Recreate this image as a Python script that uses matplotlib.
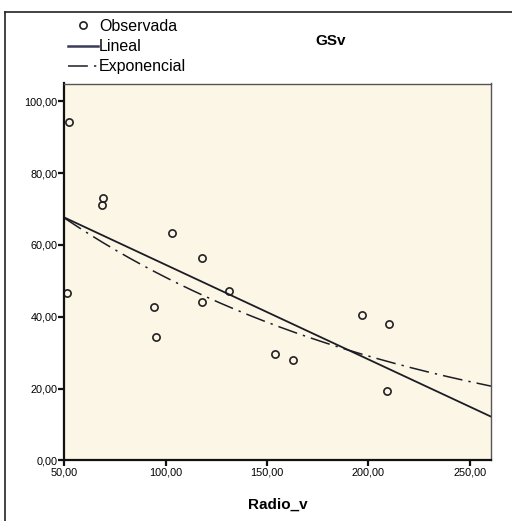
import numpy as np
import matplotlib
matplotlib.use("Agg")
import matplotlib.pyplot as plt
from matplotlib.lines import Line2D

radio_v = [52.5, 51.5, 69.2, 68.4, 103.0, 94.4, 95.1, 118.1, 117.8, 131.3,
           154.1, 163.0, 196.7, 210.0, 209.0]
gsv = [94.4, 46.7, 73.0, 71.1, 63.3, 42.6, 34.4, 56.5, 44.2, 47.3,
       29.7, 27.9, 40.6, 38.1, 19.4]

x_ticks = [50, 100, 150, 200, 250]
y_ticks = [0, 20, 40, 60, 80, 100]
x_lim = (50, 260.5)
y_lim = (0, 105)

plt.rcParams['font.family'] = ['Liberation Sans Narrow', 'Liberation Sans', 'DejaVu Sans']

x = np.array(radio_v)
y = np.array(gsv)

# SPSS-style curve estimation: linear and exponential fits
lin = np.polyfit(x, y, 1)
expo = np.polyfit(x, np.log(y), 1)
xs = np.linspace(x_lim[0], x_lim[1], 200)

fig = plt.figure(figsize=(5.12, 5.21), dpi=100)
ax = fig.add_axes([64.3 / 512, 1 - 460.3 / 521, (491 - 64.3) / 512, (460.3 - 83.5) / 521])
ax.set_facecolor('#fcf6e7')

obs, = ax.plot(x, y, 'o', mfc='none', mec='#222222', ms=5.2, mew=1.2, label='Observada', clip_on=False)
lin_line, = ax.plot(xs, np.polyval(lin, xs), color='#1c1c24', lw=1.3, label='Lineal')
exp_line, = ax.plot(xs, np.exp(np.polyval(expo, xs)), color='#1c1c24', lw=1.1,
                    linestyle=(0, (13, 4, 1.5, 4)), label='Exponencial')

ax.set_xlim(*x_lim)
ax.set_ylim(*y_lim)
ax.set_xticks(x_ticks)
ax.set_yticks(y_ticks)
ax.set_xticklabels([('%.2f' % v).replace('.', ',') for v in x_ticks])
ax.set_yticklabels([('%.2f' % v).replace('.', ',') for v in y_ticks])
ax.tick_params(direction='out', length=4, width=1.6, labelsize=7.8, color='#111111', pad=1)

for side in ['left', 'bottom']:
    ax.spines[side].set_linewidth(1.6)
    ax.spines[side].set_color('#111111')
for side in ['top', 'right']:
    ax.spines[side].set_linewidth(1.0)
    ax.spines[side].set_color('#555555')

ax.set_xlabel('Radio_v', fontsize=11, fontweight='bold', family=['Liberation Sans'], labelpad=15)
fig.text(331 / 512, 1 - 41 / 521, 'GSv', fontsize=11, fontweight='bold', family=['Liberation Sans'],
         ha='center', va='center')

legend_lin = Line2D([], [], color='#3a3a5a', lw=1.8)
fig.legend([obs, legend_lin, exp_line], ['Observada', 'Lineal', 'Exponencial'],
           loc='upper left', bbox_to_anchor=(68 / 512, 1 - 19 / 521), frameon=False,
           prop={'family': ['Liberation Sans'], 'size': 11.5}, handlelength=1.9,
           handletextpad=0.05, labelspacing=0.32, borderpad=0, borderaxespad=0, numpoints=1)

# outer frame (top and left edges of the exported panel)
fig.add_artist(Line2D([5 / 512, 5 / 512], [0, 1 - 12 / 521], color='#222222', lw=1.2))
fig.add_artist(Line2D([5 / 512, 1], [1 - 12 / 521, 1 - 12 / 521], color='#222222', lw=1.2))

fig.savefig('out.png', dpi=100)
